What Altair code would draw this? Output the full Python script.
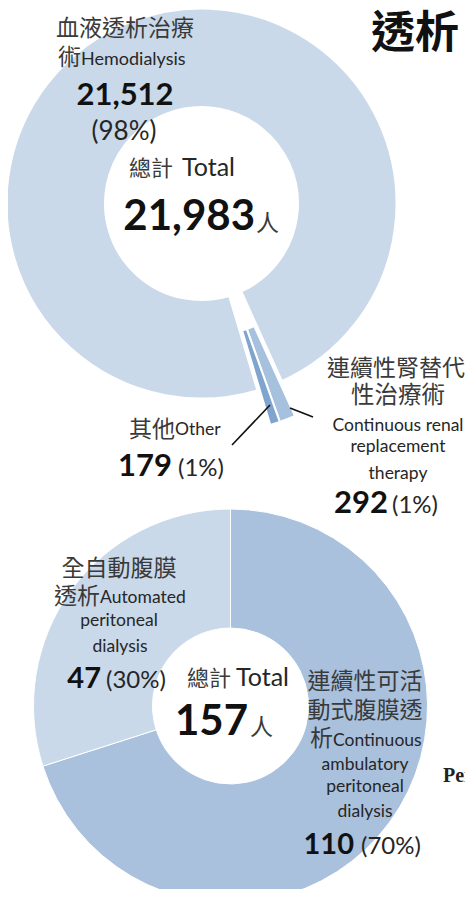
import math
import altair as alt
import pandas as pd

# ---------------- data ----------------
hd_keys = ["HD", "CRRT", "Other"]
hd_values = [21512, 292, 179]
hd_pct = ["98%", "1%", "1%"]
hd_total = 21983
hd_colors = ["#c9d9e9", "#a6c1de", "#7fa4ce"]

pd_keys = ["CAPD", "APD"]
pd_values = [110, 47]
pd_pct = ["70%", "30%"]
pd_total = 157
pd_colors = ["#a9c1dd", "#c9d9ea"]

hd_df = pd.DataFrame({"key": hd_keys, "value": hd_values, "idx": list(range(len(hd_keys)))})
pdd_df = pd.DataFrame({"key": pd_keys, "value": pd_values, "idx": list(range(len(pd_keys)))})

# ---------------- layout helpers ----------------
W, H = 457, 881
OX, OY = 8, 8

def P(x, y):
    return x - OX, y - OY

CJK = "Noto Sans CJK TC"
LAT = "Lato"
GREY = "#3a3a3a"
TXT = "#262626"
DARK = "#111111"
ENS = 17.5


def arc_layer(df, keys, colors, c, r0, r1, start_deg, show, sw, shift=(0, 0)):
    cx, cy = P(*c)
    a = math.radians(start_deg)
    return alt.Chart(df).mark_arc(
        innerRadius=r0, outerRadius=r1, stroke="white", strokeWidth=sw
    ).encode(
        theta=alt.Theta("value:Q", stack=True, scale=alt.Scale(range=[a, a + 2 * math.pi])),
        order=alt.Order("idx:Q"),
        color=alt.Color("key:N", scale=alt.Scale(domain=keys, range=colors), legend=None),
        opacity=alt.when(alt.FieldOneOfPredicate(field="key", oneOf=show))
        .then(alt.value(1))
        .otherwise(alt.value(0)),
        x=alt.value(cx + shift[0]),
        y=alt.value(cy + shift[1]),
    )


def T(s, x, y, size, font=CJK, weight="normal", align="center", color=None):
    px, py = P(x, y)
    if color is None:
        color = GREY if font == CJK else TXT
    return alt.Chart(pd.DataFrame({"t": [s]})).mark_text(
        font=font, fontSize=size, fontWeight=weight, align=align,
        baseline="alphabetic", color=color,
    ).encode(x=alt.value(px), y=alt.value(py), text="t:N")


def L(x1, y1, x2, y2):
    a, b = P(x1, y1)
    c, d = P(x2, y2)
    return alt.Chart(pd.DataFrame({"k": [0]})).mark_rule(
        color="#111111", strokeWidth=1.6
    ).encode(x=alt.value(a), y=alt.value(b), x2=alt.value(c), y2=alt.value(d))


# ---------------- donut 1 (dialysis) ----------------
C1 = (201.5, 203.5)
START1 = 163.35
mid = math.radians(159.5)
d = 37
shift1 = (d * math.sin(mid), -d * math.cos(mid))

layers = [
    arc_layer(hd_df, hd_keys, hd_colors, C1, 96.5, 195, START1, ["HD"], 2),
    arc_layer(hd_df, hd_keys, hd_colors, C1, 96.5, 195, START1, ["CRRT", "Other"], 2, shift1),
    arc_layer(pdd_df, pd_keys, pd_colors, (230.5, 706), 78, 197, 0, pd_keys, 1),
]

texts = [
    T("透析", 371, 48, 44, CJK, "bold", "left", DARK),
    # hemodialysis
    T("血液透析治療", 125, 36, 23),
    T("術", 81, 65, 23, align="right"),
    T("Hemodialysis", 81, 65, 18, LAT, align="left"),
    T(f"{hd_values[0]:,}", 125, 105, 31, LAT, "bold", color=DARK),
    T(f"({hd_pct[0]})", 124, 140, 26, LAT),
    T("總計", 173, 176, 22, align="right"),
    T("Total", 182, 176, 25, LAT, align="left"),
    T(f"{hd_total:,}", 255, 230, 42, LAT, "bold", "right", DARK),
    T("人", 256, 231, 23, align="left"),
    # CRRT
    T("連續性腎替代", 396, 376, 23),
    T("性治療術", 398, 403, 23.5),
    T("Continuous renal", 398, 431, ENS, LAT),
    T("replacement", 398, 452, ENS, LAT),
    T("therapy", 398, 479, ENS, LAT),
    T(f"{hd_values[1]}", 388, 513, 31, LAT, "bold", "right", DARK),
    T(f"({hd_pct[1]})", 392, 513, 24, LAT, align="left"),
    # Other
    T("其他", 175, 437, 23, align="right"),
    T("Other", 175, 435, ENS, LAT, align="left"),
    T(f"{hd_values[2]}", 172, 476, 31, LAT, "bold", "right", DARK),
    T(f"({hd_pct[2]})", 178, 476, 24, LAT, align="left"),
    L(232, 445, 270, 405),
    L(290, 408, 313, 417),
    # donut 2 (peritoneal)
    T("全自動腹膜", 119, 576, 23),
    T("透析", 100, 604, 23, align="right"),
    T("Automated", 100, 603, ENS, LAT, align="left"),
    T("peritoneal", 119, 626, ENS, LAT),
    T("dialysis", 120, 652, ENS, LAT),
    T(f"{pd_values[1]}", 101, 688, 29, LAT, "bold", "right", DARK),
    T(f"({pd_pct[1]})", 106, 688, 24, LAT, align="left"),
    T("總計", 231, 686, 22, align="right"),
    T("Total", 236, 686, 25, LAT, align="left"),
    T(f"{pd_total}", 248, 735, 42, LAT, "bold", "right", DARK),
    T("人", 250, 735, 23, align="left"),
    T("連續性可活", 365, 689, 23),
    T("動式腹膜透", 365, 718, 23),
    T("析", 333, 746, 23, align="right"),
    T("Continuous", 333, 746, ENS, LAT, align="left"),
    T("ambulatory", 365, 770, ENS, LAT),
    T("peritoneal", 365, 792, ENS, LAT),
    T("dialysis", 365, 817, ENS, LAT),
    T(f"{pd_values[0]}", 354, 854, 29, LAT, "bold", "right", DARK),
    T(f"({pd_pct[0]})", 361, 854, 24, LAT, align="left"),
    T("Peritoneal", 443, 782, 20, "Liberation Serif", "bold", "left", "#222222"),
]

chart = alt.layer(*layers, *texts).resolve_scale(
    theta="independent", color="independent"
).properties(
    width=W, height=H, autosize=alt.AutoSizeParams(type="none"), padding=0,
    background="white",
).configure_view(stroke=None)

chart.save("out.html", embed_options={"renderer": "svg", "actions": False})
